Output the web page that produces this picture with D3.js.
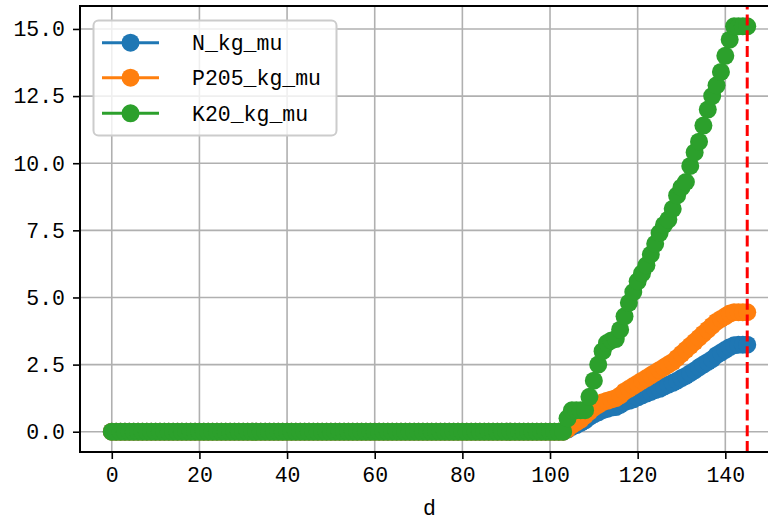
<!DOCTYPE html>
<html><head><meta charset="utf-8">
<script src="https://cdn.jsdelivr.net/npm/d3@7"></script>
<style>html,body{margin:0;padding:0;background:#fff;overflow:hidden}svg{display:block}</style>
</head><body>
<svg id="chart" width="768" height="523"></svg>
<script>
// ---- data ----
const days = [0,1,2,3,4,5,6,7,8,9,10,11,12,13,14,15,16,17,18,19,20,21,22,23,24,25,26,27,28,29,30,31,32,33,34,35,36,37,38,39,40,41,42,43,44,45,46,47,48,49,50,51,52,53,54,55,56,57,58,59,60,61,62,63,64,65,66,67,68,69,70,71,72,73,74,75,76,77,78,79,80,81,82,83,84,85,86,87,88,89,90,91,92,93,94,95,96,97,98,99,100,101,102,103,104,105,106,107,108,109,110,111,112,113,114,115,116,117,118,119,120,121,122,123,124,125,126,127,128,129,130,131,132,133,134,135,136,137,138,139,140,141,142,143,144,145];
const N_kg_mu = [0,0,0,0,0,0,0,0,0,0,0,0,0,0,0,0,0,0,0,0,0,0,0,0,0,0,0,0,0,0,0,0,0,0,0,0,0,0,0,0,0,0,0,0,0,0,0,0,0,0,0,0,0,0,0,0,0,0,0,0,0,0,0,0,0,0,0,0,0,0,0,0,0,0,0,0,0,0,0,0,0,0,0,0,0,0,0,0,0,0,0,0,0,0,0,0,0,0,0,0,0,0,0,0,
  0.08,0.18,0.25,0.33,0.42,0.55,0.65,0.72,0.8,0.85,0.9,0.92,1.0,1.1,1.15,1.2,1.28,1.35,1.42,1.48,1.55,1.6,1.68,1.75,1.82,1.9,2.0,2.08,2.18,2.28,2.4,2.5,2.6,2.7,2.85,2.95,3.05,3.15,3.22,3.24,3.24,3.24];
const P205_kg_mu = [0,0,0,0,0,0,0,0,0,0,0,0,0,0,0,0,0,0,0,0,0,0,0,0,0,0,0,0,0,0,0,0,0,0,0,0,0,0,0,0,0,0,0,0,0,0,0,0,0,0,0,0,0,0,0,0,0,0,0,0,0,0,0,0,0,0,0,0,0,0,0,0,0,0,0,0,0,0,0,0,0,0,0,0,0,0,0,0,0,0,0,0,0,0,0,0,0,0,0,0,0,0,0,0,
  0.1,0.25,0.35,0.45,0.6,0.75,0.9,1.0,1.1,1.15,1.2,1.25,1.35,1.5,1.6,1.7,1.8,1.9,2.0,2.1,2.2,2.3,2.4,2.5,2.6,2.75,2.9,3.05,3.2,3.35,3.5,3.65,3.8,3.95,4.1,4.2,4.3,4.4,4.45,4.45,4.45,4.45];
const K20_kg_mu = [0,0,0,0,0,0,0,0,0,0,0,0,0,0,0,0,0,0,0,0,0,0,0,0,0,0,0,0,0,0,0,0,0,0,0,0,0,0,0,0,0,0,0,0,0,0,0,0,0,0,0,0,0,0,0,0,0,0,0,0,0,0,0,0,0,0,0,0,0,0,0,0,0,0,0,0,0,0,0,0,0,0,0,0,0,0,0,0,0,0,0,0,0,0,0,0,0,0,0,0,0,0,0,0,
  0.5,0.8,0.8,0.8,0.8,1.3,1.9,2.5,3.0,3.3,3.4,3.45,3.8,4.3,4.8,5.2,5.6,5.9,6.2,6.6,7.0,7.4,7.7,7.9,8.3,8.8,9.1,9.3,9.9,10.4,10.8,11.4,12.0,12.5,12.9,13.4,14.0,14.6,15.1,15.1,15.1,15.1];
const seriesNames = ["N_kg_mu","P205_kg_mu","K20_kg_mu"];
const seriesColors = ["#1f77b4","#ff7f0e","#2ca02c"];
const xTicks = [0,20,40,60,80,100,120,140];
const yTicks = [0,2.5,5,7.5,10,12.5,15];
const markerLine = 145;
const xLabel = "d";

// ---- layout ----
const svg = d3.select("#chart");
const L = 80, R = 779, T = 6, B = 452;
const FONT = "'Liberation Mono','DejaVu Sans Mono',monospace";
const x = d3.scaleLinear().domain([-7.25, 152.25]).range([L, R]);
const y = d3.scaleLinear().domain([-0.755, 15.855]).range([B, T]);

// grid
const g = svg.append("g");
g.selectAll(".gx").data(xTicks).join("line")
  .attr("x1", d => x(d)).attr("x2", d => x(d)).attr("y1", T).attr("y2", B)
  .attr("stroke", "#b0b0b0").attr("stroke-width", 1.6);
g.selectAll(".gy").data(yTicks).join("line")
  .attr("y1", d => y(d)).attr("y2", d => y(d)).attr("x1", L).attr("x2", R)
  .attr("stroke", "#b0b0b0").attr("stroke-width", 1.6);

// series
const allSeries = [N_kg_mu, P205_kg_mu, K20_kg_mu];
const line = d3.line().x((d, i) => x(days[i])).y(d => y(d));
allSeries.forEach((vals, si) => {
  const sg = svg.append("g");
  sg.append("path").datum(vals).attr("d", line)
    .attr("fill", "none").attr("stroke", seriesColors[si]).attr("stroke-width", 3)
    .attr("stroke-linejoin", "round").attr("stroke-linecap", "square");
  sg.selectAll("circle").data(vals).join("circle")
    .attr("cx", (d, i) => x(days[i])).attr("cy", d => y(d)).attr("r", 9)
    .attr("fill", seriesColors[si]);
});

// red dashed vertical line
svg.append("line")
  .attr("x1", x(markerLine)).attr("x2", x(markerLine)).attr("y1", B).attr("y2", T)
  .attr("stroke", "red").attr("stroke-width", 3).attr("stroke-dasharray", "11,4.8");

// axes
const xAxis = d3.axisBottom(x).tickValues(xTicks).tickSize(7).tickPadding(8).tickFormat(d3.format("d"));
const yAxis = d3.axisLeft(y).tickValues(yTicks).tickSize(7).tickPadding(8).tickFormat(d3.format(".1f"));
const gx = svg.append("g").attr("transform", `translate(0,${B})`).call(xAxis);
const gy = svg.append("g").attr("transform", `translate(${L},0)`).call(yAxis);
[gx, gy].forEach(a => {
  a.select(".domain").remove();
  a.selectAll(".tick line").attr("stroke", "#000").attr("stroke-width", 1.6);
  a.selectAll(".tick text").attr("fill", "#000").style("font-family", FONT).style("font-size", "21.5px");
});
// spines
svg.append("rect").attr("x", L).attr("y", T).attr("width", R - L).attr("height", B - T)
  .attr("fill", "none").attr("stroke", "#000").attr("stroke-width", 2);

// x label
svg.append("text").attr("x", (L + R) / 2).attr("y", 515).attr("text-anchor", "middle")
  .style("font-family", FONT).style("font-size", "21.5px").text(xLabel);

// legend
const lg = svg.append("g");
lg.append("rect").attr("x", 93.5).attr("y", 20.5).attr("width", 243).attr("height", 115).attr("rx", 5)
  .attr("fill", "#fff").attr("fill-opacity", 0.8).attr("stroke", "#cccccc").attr("stroke-width", 2);
const rowsY = [42.7, 77.7, 113.3];
seriesNames.forEach((nm, i) => {
  lg.append("line").attr("x1", 102).attr("x2", 159).attr("y1", rowsY[i]).attr("y2", rowsY[i])
    .attr("stroke", seriesColors[i]).attr("stroke-width", 3);
  lg.append("circle").attr("cx", 130.5).attr("cy", rowsY[i]).attr("r", 9).attr("fill", seriesColors[i]);
  lg.append("text").attr("x", 192).attr("y", rowsY[i]).attr("dy", "0.35em")
    .style("font-family", FONT).style("font-size", "21.5px").text(nm);
});
</script>
</body></html>
